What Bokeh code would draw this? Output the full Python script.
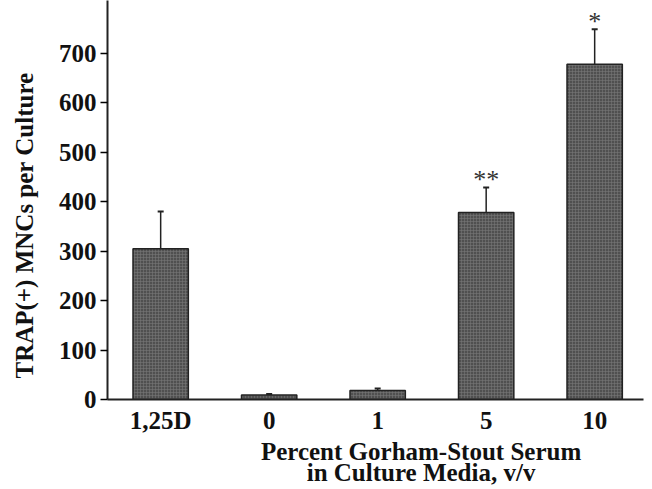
import math
from bokeh.plotting import figure
from bokeh.models import (ColumnDataSource, Whisker, TeeHead, FixedTicker, Range1d,
                          LinearAxis)
from bokeh.core.properties import value
from bokeh.embed import file_html
from bokeh.resources import INLINE

categories = ["1,25D", "0", "1", "5", "10"]
means = [305, 9, 18, 378, 678]
errors = [75, 2, 4, 51, 71]
stars = ["", "", "", "**", "*"]
y_ticks = [0, 100, 200, 300, 400, 500, 600, 700]
y_title = "TRAP(+) MNCs per Culture"
x_title = ["Percent Gorham-Stout Serum", "in Culture Media, v/v"]

FONT = "Liberation Serif"
INK = "#111111"

xs = list(range(len(categories)))
upper = [m + e for m, e in zip(means, errors)]
src = ColumnDataSource(dict(x=xs, top=means, upper=upper, cat=categories,
                            star=stars, star_y=[u + 45 for u in upper]))

p = figure(width=652, height=489, output_backend="svg", toolbar_location=None,
           x_range=Range1d(-0.49, 4.45), y_range=Range1d(0, 807),
           min_border_left=107, min_border_right=9, min_border_top=0, min_border_bottom=90)
p.outline_line_color = None
p.grid.visible = False
p.background_fill_color = "white"

p.vbar(x="x", top="top", bottom=0, width=0.51, source=src,
       fill_color="#505050", line_color="#222222", line_width=1.5,
       hatch_pattern="cross", hatch_color="#777777", hatch_scale=3, hatch_weight=0.6)

w = Whisker(base="x", lower="top", upper="upper", source=src,
            line_color="#222222", line_width=1.5,
            upper_head=TeeHead(size=6, line_color="#222222", line_width=2),
            lower_head=None)
p.add_layout(w)

p.text(x="x", y="star_y", text="star", source=src, text_align="center",
       text_baseline="top", text_font=value(FONT), text_font_size="26px",
       text_color="#333333")


def style_labels(ax, size):
    ax.major_label_text_font = FONT
    ax.major_label_text_font_style = "bold"
    ax.major_label_text_font_size = size
    ax.major_label_text_color = INK
    ax.minor_tick_line_color = None


# y axis
p.yaxis.ticker = FixedTicker(ticks=y_ticks)
style_labels(p.yaxis[0], "25px")
p.yaxis.axis_line_width = 2
p.yaxis.axis_line_color = "#222222"
p.yaxis.major_tick_line_width = 1.5
p.yaxis.major_tick_out = 7
p.yaxis.major_tick_in = 0
p.yaxis.major_label_standoff = 4

# x axis
p.xaxis.ticker = FixedTicker(ticks=xs)
p.xaxis.major_label_overrides = {i: c for i, c in zip(xs, categories)}
style_labels(p.xaxis[0], "25px")
p.xaxis.axis_line_width = 2
p.xaxis.axis_line_color = "#222222"
p.xaxis.major_tick_line_color = None
p.xaxis.major_label_standoff = 1

# y title as a label-only axis
ylab = LinearAxis(ticker=FixedTicker(ticks=[352]),
                  major_label_overrides={352: y_title},
                  major_label_orientation="vertical",
                  axis_line_color=None, major_tick_line_color=None,
                  major_tick_out=0, major_tick_in=0, major_label_standoff=17)
style_labels(ylab, "25px")
p.add_layout(ylab, "left")

# x title (two lines) as a label-only axis
xlab = LinearAxis(ticker=FixedTicker(ticks=[2.4]),
                  major_label_overrides={2.4: "\n".join(x_title)},
                  axis_line_color=None, major_tick_line_color=None,
                  major_tick_out=0, major_tick_in=0, major_label_standoff=1)
style_labels(xlab, "25px")
xlab.major_label_text_line_height = 0.8
p.add_layout(xlab, "below")

open("out.html", "w").write(file_html(p, INLINE))
